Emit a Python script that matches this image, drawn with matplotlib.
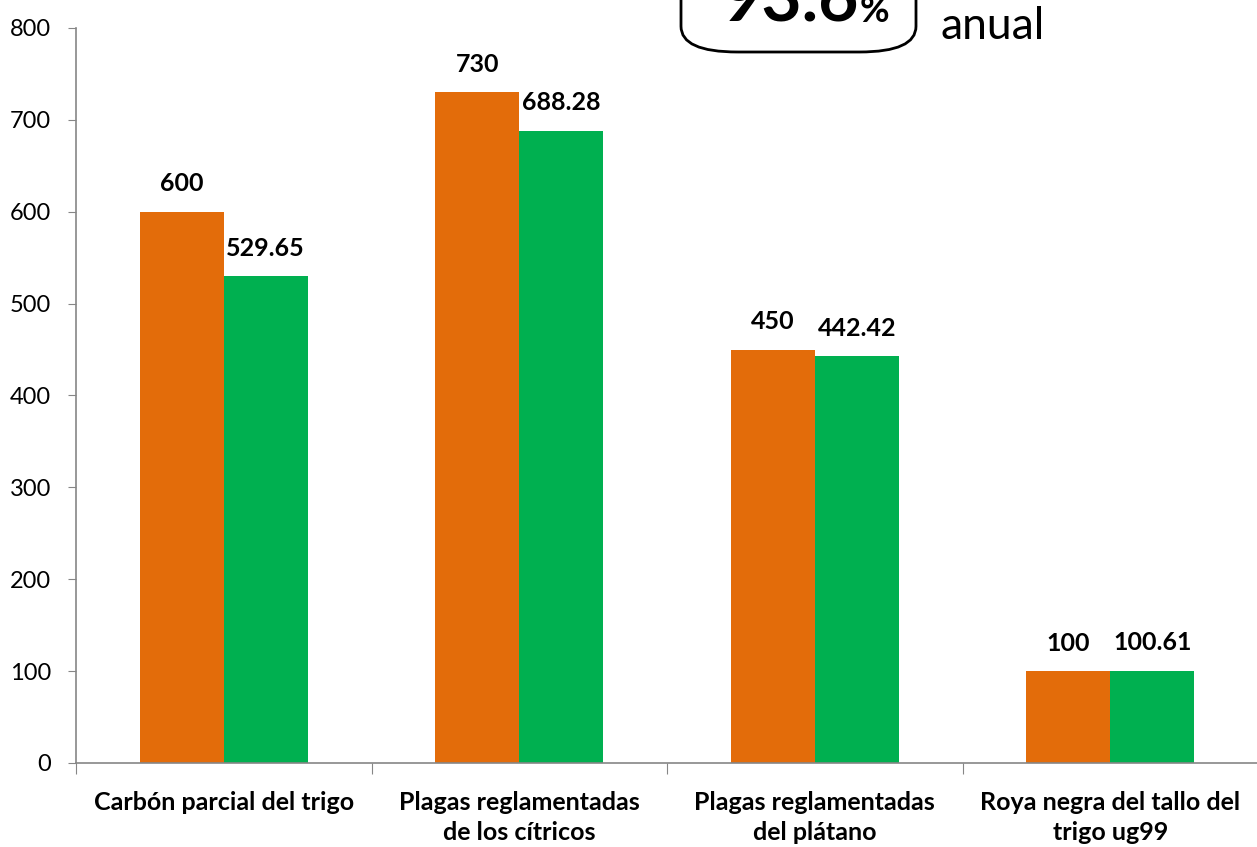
import matplotlib.pyplot as plt
from matplotlib.patches import FancyBboxPatch
import numpy as np

# datos del gráfico
categorias = [
    "Carbón parcial del trigo",
    "Plagas reglamentadas\nde los cítricos",
    "Plagas reglamentadas\ndel plátano",
    "Roya negra del tallo del\ntrigo ug99",
]
programado = [600, 730, 450, 100]
ejecutado = [529.65, 688.28, 442.42, 100.61]
etiq_prog = ["600", "730", "450", "100"]
etiq_ejec = ["529.65", "688.28", "442.42", "100.61"]
y_ticks = [0, 100, 200, 300, 400, 500, 600, 700, 800]
avance = "93.6"

NARANJA = "#E36C0A"
VERDE = "#00B050"
GRIS = "#868686"

plt.rcParams["font.family"] = ["Lato", "DejaVu Sans"]

fig = plt.figure(figsize=(12.57, 8.47), dpi=100)
ax = fig.add_axes([0.0605, 0.0992, 0.9403, 0.8678])

x = np.arange(len(categorias))
w = 0.284
ax.bar(x - w / 2, programado, width=w, color=NARANJA)
ax.bar(x + w / 2, ejecutado, width=w, color=VERDE)

# etiquetas de valor
for xi, v, t in zip(x - w / 2, programado, etiq_prog):
    ax.text(xi, v + 18, t, ha="center", va="bottom", fontsize=18, fontweight="bold")
for xi, v, t in zip(x + w / 2, ejecutado, etiq_ejec):
    ax.text(xi, v + 18, t, ha="center", va="bottom", fontsize=18, fontweight="bold")

ax.set_xlim(-0.5, len(categorias) - 0.5)
ax.set_ylim(0, 800)
ax.set_yticks(y_ticks)
ax.tick_params(axis="y", labelsize=17, length=6, color=GRIS, pad=12)

# marcas del eje x en los límites de categoría
ax.set_xticks(np.arange(len(categorias) + 1) - 0.5)
ax.set_xticklabels([])
ax.tick_params(axis="x", length=8, color=GRIS)
for xi, c in zip(x, categorias):
    ax.text(xi, -30, c, ha="center", va="top", fontsize=18, fontweight="bold",
            linespacing=1.4)

for s in ["top", "right"]:
    ax.spines[s].set_visible(False)
for s in ["left", "bottom"]:
    ax.spines[s].set_color(GRIS)
    ax.spines[s].set_linewidth(1.2)

# recuadro de avance anual (cortado arriba)
W, H = 1257, 847
caja = FancyBboxPatch((681 / W, 1 - 52 / H), (916 - 681) / W, 0.12,
                      boxstyle="round,pad=0,rounding_size=0.045",
                      transform=fig.transFigure, fill=False, edgecolor="black",
                      linewidth=2, clip_on=False, mutation_aspect=H / W)
fig.patches.append(caja)
fig.text(858 / W, 1 - 22 / H, avance, ha="right", va="baseline", fontsize=50,
         fontweight="bold")
fig.text(860 / W, 1 - 22 / H, "%", ha="left", va="baseline", fontsize=26,
         fontweight="bold")
fig.text(940 / W, 1 - 39 / H, "anual", ha="left", va="baseline", fontsize=32)

fig.savefig("out.png", dpi=100)
